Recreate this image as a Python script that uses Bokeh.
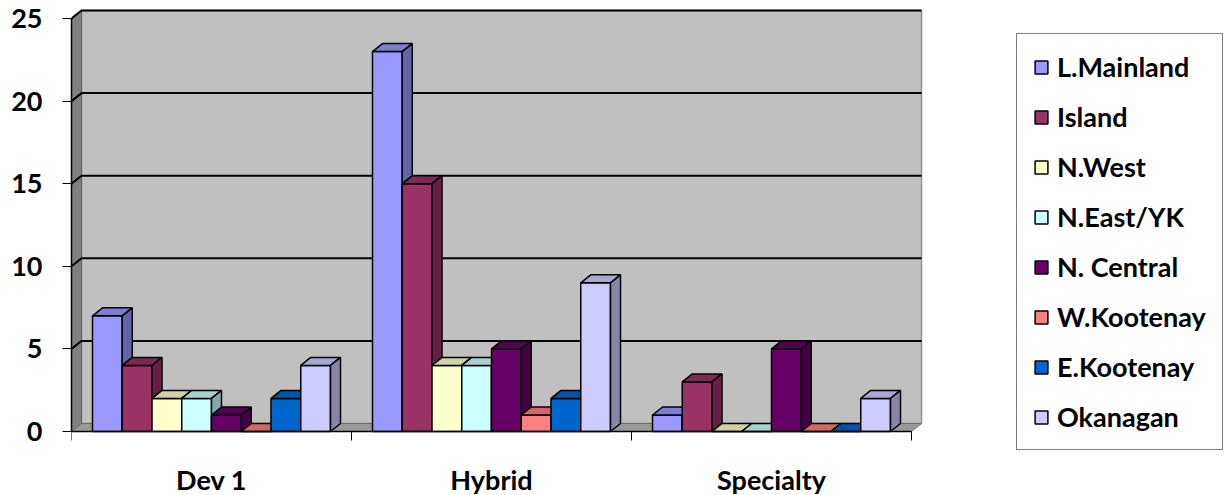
import numpy as np
from bokeh.plotting import figure
from bokeh.models import Range1d, FixedTicker, Legend, LegendItem, ColumnDataSource
from bokeh.embed import file_html
from bokeh.resources import INLINE

# ---- data ----
categories = ["Dev 1", "Hybrid", "Specialty"]
regions = ["L.Mainland", "Island", "N.West", "N.East/YK", "N. Central",
           "W.Kootenay", "E.Kootenay", "Okanagan"]
l_mainland = [7, 23, 1]
island = [4, 15, 3]
n_west = [2, 4, 0]
n_east_yk = [2, 4, 0]
n_central = [1, 5, 5]
w_kootenay = [0, 1, 0]
e_kootenay = [2, 2, 0]
okanagan = [4, 9, 2]
y_ticks = [0, 5, 10, 15, 20, 25]
colors = ["#9999FF", "#993366", "#FFFFCC", "#CCFFFF", "#660066",
          "#FF8080", "#0066CC", "#CCCCFF"]

series = [l_mainland, island, n_west, n_east_yk, n_central,
          w_kootenay, e_kootenay, okanagan]

# ---- geometry (pixel scale of the projection) ----
FW, FH = 1227, 495
LEFT = 71
ZERO_Y = 431
PX = 280.0      # px per category
K = 16.52       # px per value unit
DX = 10.0 / PX  # depth offset in x (data units)
DY = 8.0 / K    # depth offset in y (data units)
GAP = 0.075
W = (1 - 2 * GAP) / len(series)
NCAT = len(categories)
YMAX = y_ticks[-1]

FONT = "Lato"
FS = "27px"


def shade(hexcol, f):
    h = hexcol.lstrip("#")
    r, g, b = (int(h[i:i + 2], 16) for i in (0, 2, 4))
    return "#%02x%02x%02x" % (int(r * f), int(g * f), int(b * f))


p = figure(width=FW, height=FH,
           x_range=Range1d(0, (FW - LEFT) / PX),
           y_range=Range1d(-(FH - ZERO_Y) / K, ZERO_Y / K),
           output_backend="svg", toolbar_location=None,
           min_border_left=LEFT, min_border_right=0, min_border_top=0, min_border_bottom=0)
p.outline_line_color = None
p.grid.visible = False
p.background_fill_color = "white"
p.border_fill_color = "white"

# walls & floor
p.patch([DX, NCAT + DX, NCAT + DX, DX], [DY, DY, YMAX + DY, YMAX + DY],
        fill_color="#C0C0C0", line_color="#909090", line_width=1.5)
p.patch([0, DX, DX, 0], [0, DY, YMAX + DY, YMAX],
        fill_color="#808080", line_color="#606060", line_width=1)
p.patch([0, NCAT, NCAT + DX, DX], [0, 0, DY, DY],
        fill_color="#999999", line_color="#707070", line_width=1)

# gridlines on left wall + back wall
gx, gy = [], []
for v in y_ticks[1:]:
    gx.append([0, DX, NCAT + DX])
    gy.append([v, v + DY, v + DY])
p.multi_line(gx, gy, line_color="black", line_width=2)

# bars: front, top, side per bar in painter's order
xs, ys, fills = [], [], []
legend_index = {}
for c in range(NCAT):
    for s, vals in enumerate(series):
        v = vals[c]
        x0 = c + GAP + s * W
        x1 = x0 + W
        if c == 0:
            legend_index[s] = len(xs)
        xs.append([x0, x1, x1, x0]); ys.append([0, 0, v, v]); fills.append(colors[s])
        xs.append([x0, x1, x1 + DX, x0 + DX]); ys.append([v, v, v + DY, v + DY]); fills.append(shade(colors[s], 0.82))
        xs.append([x1, x1 + DX, x1 + DX, x1]); ys.append([0, DY, v + DY, v]); fills.append(shade(colors[s], 0.66))

src = ColumnDataSource(dict(xs=xs, ys=ys, fill=fills))
bars = p.patches("xs", "ys", source=src, fill_color="fill", line_color="black", line_width=1.5)

# axes
xa = p.xaxis[0]
xa.fixed_location = 0
xa.bounds = (0, NCAT)
xa.ticker = FixedTicker(ticks=[c + 0.5 for c in range(NCAT)], minor_ticks=list(range(NCAT + 1)))
xa.major_label_overrides = {c + 0.5: categories[c] for c in range(NCAT)}
xa.major_tick_out = 0
xa.major_tick_in = 0
xa.minor_tick_out = 9
xa.minor_tick_in = 0
xa.minor_tick_line_color = "black"
xa.axis_line_color = "black"
xa.axis_line_width = 1.5
xa.major_label_standoff = 22
xa.major_label_text_font = FONT
xa.major_label_text_font_style = "bold"
xa.major_label_text_font_size = FS
xa.major_label_text_color = "black"

ya = p.yaxis[0]
ya.bounds = (0, YMAX)
ya.ticker = FixedTicker(ticks=y_ticks, minor_ticks=[])
ya.major_tick_out = 9
ya.major_tick_in = 0
ya.major_tick_line_color = "black"
ya.axis_line_color = "black"
ya.axis_line_width = 1.5
ya.major_label_standoff = 20
ya.major_label_text_font = FONT
ya.major_label_text_font_style = "bold"
ya.major_label_text_font_size = FS
ya.major_label_text_color = "black"

items = [LegendItem(label=regions[s], renderers=[bars], index=legend_index[s]) for s in range(len(series))]
legend = Legend(items=items, location=(945, 45), orientation="vertical",
                label_text_font=FONT, label_text_font_style="bold", label_text_font_size=FS,
                label_text_color="black", glyph_width=16, glyph_height=16, label_standoff=8,
                spacing=17, padding=16, margin=0, border_line_color="black", border_line_width=1,
                background_fill_color="white", background_fill_alpha=1)
p.add_layout(legend)

open("out.html", "w").write(file_html(p, INLINE))
